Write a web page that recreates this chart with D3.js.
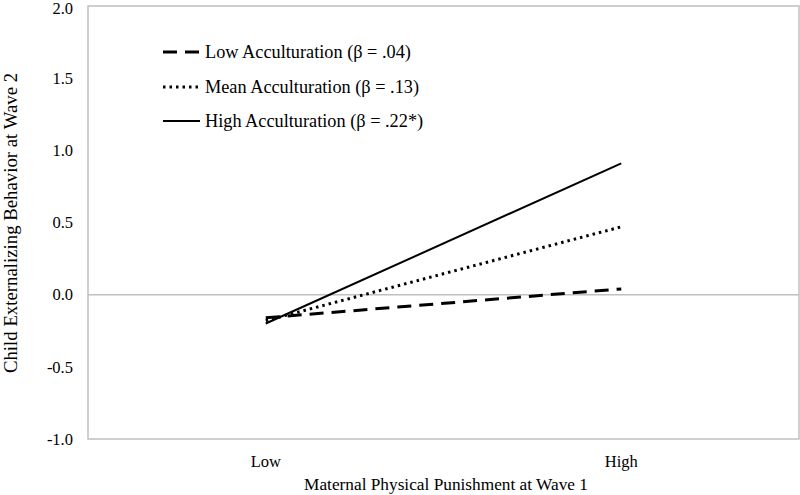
<!DOCTYPE html>
<html><head><meta charset="utf-8">
<script src="https://cdn.jsdelivr.net/npm/d3@7"></script>
<style>body{margin:0;background:#fff}svg{display:block}text{font-family:"Liberation Serif","Times New Roman",serif;fill:#000}</style>
</head><body><svg id="c" width="800" height="495"></svg>
<script>
const categories = ["Low", "High"];
const seriesNames = ["Low Acculturation (\u03B2 = .04)", "Mean Acculturation (\u03B2 = .13)", "High Acculturation (\u03B2 = .22*)"];
const lowAccValues = [-0.16, 0.04];
const meanAccValues = [-0.18, 0.47];
const highAccValues = [-0.20, 0.91];
const yTicks = [-1.0, -0.5, 0.0, 0.5, 1.0, 1.5, 2.0];
const xTitle = "Maternal Physical Punishment at Wave 1";
const yTitle = "Child Externalizing Behavior at Wave 2";

const series = [
  {name: seriesNames[0], values: lowAccValues, dash: "14,8", width: 3},
  {name: seriesNames[1], values: meanAccValues, dash: "2.5,4", width: 3},
  {name: seriesNames[2], values: highAccValues, dash: null, width: 2}
];

const svg = d3.select("#c");
const L = 88, R = 799, T = 6, B = 439;
const x = d3.scaleBand().domain(categories).range([L, R]);
const y = d3.scaleLinear().domain([-1, 2]).range([B, T]);

// plot border
svg.append("rect").attr("x", L).attr("y", T).attr("width", R - L).attr("height", B - T)
  .attr("fill", "none").attr("stroke", "#c0c0c0").attr("stroke-width", 1.5);
// zero line
svg.append("line").attr("x1", L).attr("x2", R).attr("y1", y(0)).attr("y2", y(0))
  .attr("stroke", "#c0c0c0").attr("stroke-width", 1.5);

// y axis
const fmt = d => d3.format(".1f")(d).replace("\u2212", "-");
const ya = svg.append("g").attr("transform", `translate(${L},0)`)
  .call(d3.axisLeft(y).tickValues(yTicks).tickFormat(fmt).tickSize(0).tickPadding(15));
ya.select(".domain").remove();
ya.selectAll("text").attr("font-size", 16.5).attr("font-family", "Liberation Serif");
ya.selectAll(".tick").filter(d => d === 2).select("text").attr("dy", "0.45em");

// x axis
const xa = svg.append("g").attr("transform", `translate(0,${B})`)
  .call(d3.axisBottom(x).tickSize(0).tickPadding(16));
xa.select(".domain").remove();
xa.selectAll("text").attr("font-size", 16.5).attr("font-family", "Liberation Serif");

// titles
svg.append("text").attr("x", 446).attr("y", 490).attr("text-anchor", "middle")
  .attr("font-size", 17.3).text(xTitle);
svg.append("text").attr("transform", `translate(17,223) rotate(-90)`)
  .attr("text-anchor", "middle").attr("font-size", 18.8).text(yTitle);

// lines
const line = d3.line().x((d, i) => x(categories[i]) + x.bandwidth() / 2).y(d => y(d));
series.forEach(s => {
  svg.append("path").datum(s.values).attr("d", line).attr("fill", "none")
    .attr("stroke", "#000").attr("stroke-width", s.width)
    .attr("stroke-dasharray", s.dash);
});

// legend
const legY = [52, 87, 121];
series.forEach((s, i) => {
  svg.append("line").attr("x1", 163).attr("x2", 200).attr("y1", legY[i]).attr("y2", legY[i])
    .attr("stroke", "#000").attr("stroke-width", s.width).attr("stroke-dasharray", s.dash);
  svg.append("text").attr("x", 205).attr("y", legY[i]).attr("dy", "0.35em")
    .attr("font-size", 18.3).text(s.name);
});
</script></body></html>
